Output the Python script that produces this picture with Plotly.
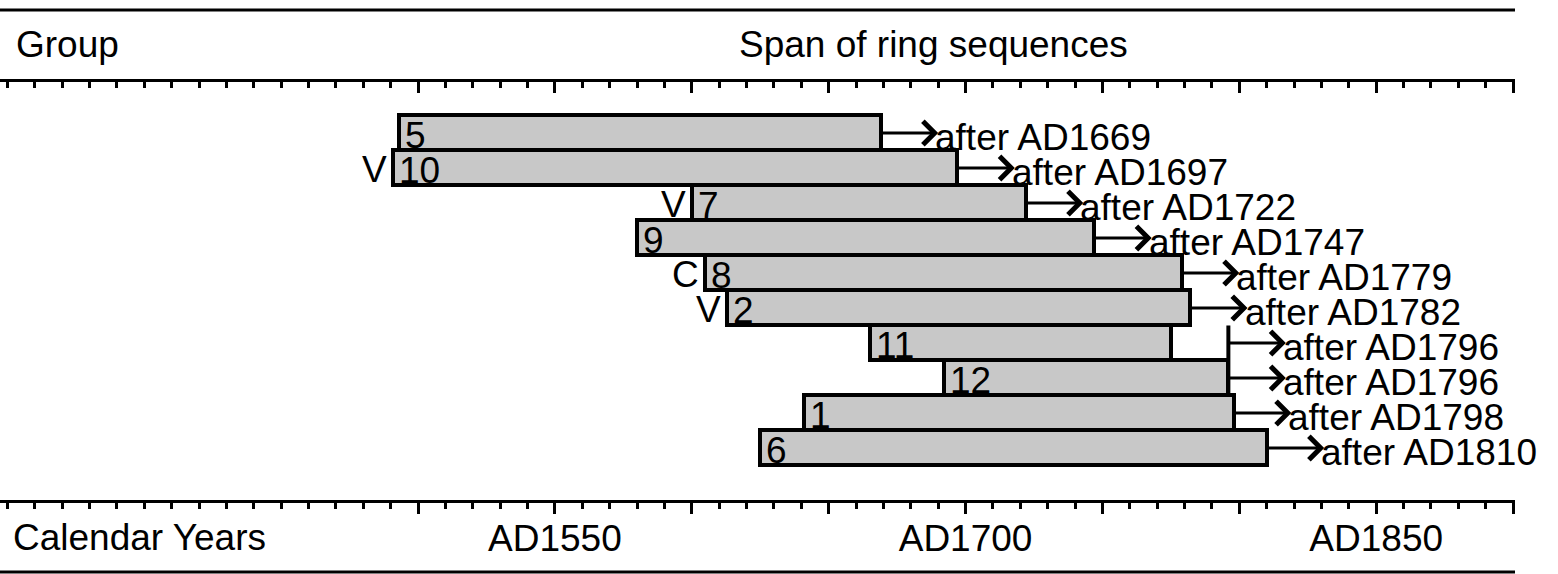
import plotly.graph_objects as go

# ---------------------------------------------------------------------------
# DATA
# ---------------------------------------------------------------------------
groups = ["5", "10", "7", "9", "8", "2", "11", "12", "1", "6"]
# letter printed in front of the bar (V / C), empty when there is none
prefixes = ["", "V", "V", "", "C", "V", "", "", "", ""]
first_ring = [1493, 1491, 1600, 1580, 1605, 1613, 1665, 1692, 1641, 1625]
last_ring = [1669, 1697, 1722, 1747, 1779, 1782, 1775, 1796, 1798, 1810]
felled_after = [1669, 1697, 1722, 1747, 1779, 1782, 1796, 1796, 1798, 1810]

tick_years = list(range(1500, 1901, 50))
label_years = [1550, 1700, 1850]

# ---------------------------------------------------------------------------
# LAYOUT CONSTANTS
# ---------------------------------------------------------------------------
W, H = 1558, 574
TOP, BOTTOM, RIGHT = 82, 74, 43          # plot area = px 0..1515 x 82..500
X_RANGE = [1347.3, 1900.7]
Y_RANGE = [10.486, -1.457]               # one row = 35 px
FONT = "Liberation Sans, Arial, sans-serif"
ARROW_LEN = 21
TXT = 37


def paper_y(py):
    return (H - BOTTOM - py) / (H - TOP - BOTTOM)


rows = list(range(len(groups)))
fig = go.Figure()

# bars
fig.add_trace(go.Bar(
    y=rows,
    base=first_ring,
    x=[e - s for s, e in zip(first_ring, last_ring)],
    orientation='h',
    width=1,
    marker=dict(color='#c8c8c8', line=dict(color='black', width=4)),
    hoverinfo='skip',
    showlegend=False
))

# bracket where several bars share one felling date
bx, by = [], []
for yr in sorted(set(felled_after)):
    idx = [i for i, v in enumerate(felled_after) if v == yr]
    if any(last_ring[i] < yr for i in idx):
        bx += [yr, yr, None]
        by += [min(idx) - 0.5, max(idx) + 0.5, None]
fig.add_trace(go.Scatter(
    x=bx, y=by, mode='lines',
    line=dict(color='black', width=4),
    hoverinfo='skip', showlegend=False
))

# empty trace so the top axis is drawn
fig.add_trace(go.Scatter(x=[], y=[], xaxis='x2', showlegend=False))

annotations = []
for i in rows:
    # arrow
    annotations.append(dict(
        x=felled_after[i] + ARROW_LEN, y=i, ax=felled_after[i], ay=i,
        xref='x', yref='y', axref='x', ayref='y',
        text='', showarrow=True, arrowhead=4, arrowsize=1.5,
        arrowwidth=3, arrowcolor='black', standoff=0, startstandoff=0
    ))
    # "after ADxxxx"
    annotations.append(dict(
        x=felled_after[i] + ARROW_LEN, y=i, xref='x', yref='y',
        text=f"after AD{felled_after[i]}", showarrow=False,
        xanchor='left', yanchor='middle', xshift=-5, yshift=-5,
        font=dict(size=TXT, color='black', family=FONT)
    ))
    # group number inside the bar
    annotations.append(dict(
        x=first_ring[i], y=i, xref='x', yref='y',
        text=groups[i], showarrow=False,
        xanchor='left', yanchor='middle', xshift=4, yshift=-3,
        font=dict(size=TXT, color='black', family=FONT)
    ))
    if prefixes[i]:
        annotations.append(dict(
            x=first_ring[i], y=i, xref='x', yref='y',
            text=prefixes[i], showarrow=False,
            xanchor='right', yanchor='middle', xshift=-4, yshift=-2,
            font=dict(size=TXT, color='black', family=FONT)
        ))

# header / footer text
annotations += [
    dict(x=0.009, y=paper_y(45), xref='paper', yref='paper', text='Group',
         showarrow=False, xanchor='left', yanchor='middle',
         font=dict(size=TXT, color='black', family=FONT)),
    dict(x=0.616, y=paper_y(45), xref='paper', yref='paper',
         text='Span of ring sequences', showarrow=False,
         xanchor='center', yanchor='middle',
         font=dict(size=TXT, color='black', family=FONT)),
    dict(x=0.007, y=paper_y(537), xref='paper', yref='paper',
         text='Calendar Years', showarrow=False,
         xanchor='left', yanchor='middle',
         font=dict(size=TXT, color='black', family=FONT)),
]

shapes = [
    dict(type='line', xref='paper', yref='paper', x0=0, x1=1,
         y0=paper_y(10), y1=paper_y(10), line=dict(color='black', width=3)),
    dict(type='line', xref='paper', yref='paper', x0=0, x1=1,
         y0=paper_y(572), y1=paper_y(572), line=dict(color='black', width=3)),
]

tick_text = [f"AD{y}" if y in label_years else "" for y in tick_years]

fig.update_layout(
    width=W, height=H,
    margin=dict(l=0, r=RIGHT, t=TOP, b=BOTTOM),
    plot_bgcolor='white', paper_bgcolor='white',
    bargap=0,
    annotations=annotations,
    shapes=shapes,
    font=dict(family=FONT, color='black'),
    xaxis=dict(
        range=X_RANGE, showgrid=False, zeroline=False,
        showline=True, linecolor='black', linewidth=3,
        ticks='outside', ticklen=11, tickwidth=3, tickcolor='black',
        tickvals=tick_years, ticktext=tick_text,
        tickfont=dict(size=TXT, color='black', family=FONT),
        ticklabelstandoff=-7,
        minor=dict(dtick=10, tick0=1500, ticks='outside', ticklen=6,
                   tickwidth=3, tickcolor='black', showgrid=False)
    ),
    xaxis2=dict(
        range=X_RANGE, overlaying='x', side='top', anchor='y',
        showgrid=False, zeroline=False,
        showline=True, linecolor='black', linewidth=3,
        ticks='inside', ticklen=11, tickwidth=3, tickcolor='black',
        tickvals=tick_years, showticklabels=False,
        minor=dict(dtick=10, tick0=1500, ticks='inside', ticklen=6,
                   tickwidth=3, tickcolor='black', showgrid=False)
    ),
    yaxis=dict(
        range=Y_RANGE, showgrid=False, zeroline=False,
        showline=False, showticklabels=False, ticks=''
    ),
)

fig.write_html("out.html", config={'displayModeBar': False},
               post_script="document.body.style.margin='0';")
